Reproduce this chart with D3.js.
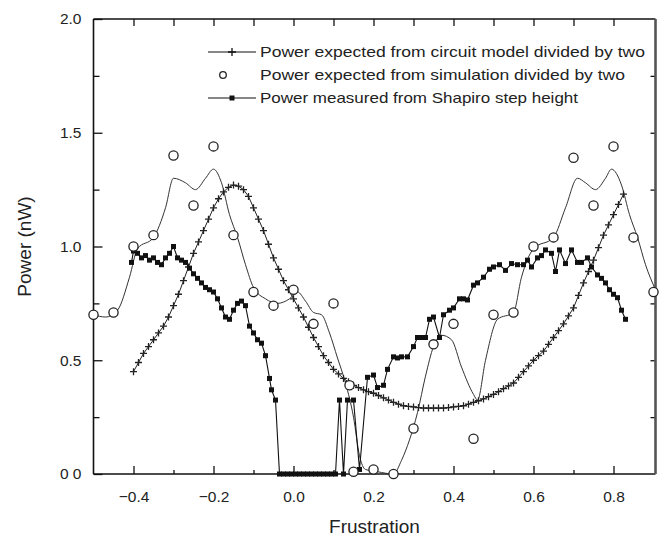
<!DOCTYPE html>
<html><head><meta charset="utf-8">
<script src="https://cdn.jsdelivr.net/npm/d3@7"></script>
<style>body{margin:0;background:#fff}svg{display:block}text{font-family:"Liberation Sans",Arial,sans-serif;fill:#222}</style>
</head><body><svg id="c" width="668" height="544"></svg>
<script>
// ---- data ----
const xTicks = [-0.4, -0.2, 0.0, 0.2, 0.4, 0.6, 0.8];
const xMinorTicks = [-0.5, -0.3, -0.1, 0.1, 0.3, 0.5, 0.7, 0.9];
const yTicks = [0, 0.5, 1.0, 1.5, 2.0];
const yMinorTicks = [0.25, 0.75, 1.25, 1.75];
const yTickLabels = ["0 0", "0.5", "1.0", "1.5", "2.0"];

const circuitX = [-0.4,-0.3875,-0.375,-0.3625,-0.35,-0.3375,-0.325,-0.3125,-0.3,-0.2875,-0.275,-0.2625,-0.25,-0.2375,-0.225,-0.2125,-0.2,-0.1875,-0.175,-0.1625,-0.15,-0.1375,-0.125,-0.1125,-0.1,-0.0875,-0.075,-0.0625,-0.05,-0.0375,-0.025,-0.0125,0,0.0125,0.025,0.0375,0.05,0.0625,0.075,0.0875,0.1,0.1125,0.125,0.1375,0.15,0.1625,0.175,0.1875,0.2,0.2125,0.225,0.2375,0.25,0.2625,0.275,0.2875,0.3,0.3125,0.325,0.3375,0.35,0.3625,0.375,0.3875,0.4,0.4125,0.425,0.4375,0.45,0.4625,0.475,0.4875,0.5,0.5125,0.525,0.5375,0.55,0.5625,0.575,0.5875,0.6,0.6125,0.625,0.6375,0.65,0.6625,0.675,0.6875,0.7,0.7125,0.725,0.7375,0.75,0.7625,0.775,0.7875,0.8,0.8125,0.825];
const circuitY = [0.45,0.49,0.53,0.56,0.59,0.62,0.65,0.69,0.74,0.79,0.85,0.91,0.97,1.02,1.07,1.12,1.17,1.21,1.24,1.26,1.27,1.265,1.25,1.22,1.17,1.12,1.07,1.01,0.95,0.90,0.85,0.81,0.77,0.73,0.69,0.645,0.60,0.56,0.52,0.49,0.46,0.44,0.42,0.405,0.39,0.38,0.37,0.362,0.355,0.345,0.335,0.325,0.315,0.307,0.30,0.297,0.295,0.292,0.29,0.29,0.29,0.29,0.29,0.292,0.295,0.297,0.30,0.307,0.315,0.322,0.33,0.34,0.35,0.362,0.375,0.387,0.40,0.425,0.45,0.475,0.50,0.52,0.54,0.57,0.60,0.63,0.66,0.695,0.73,0.785,0.84,0.89,0.94,0.995,1.05,1.095,1.14,1.185,1.23];

const simX = [-0.5,-0.45,-0.4,-0.35,-0.3,-0.25,-0.2,-0.15,-0.1,-0.05,0.0,0.05,0.1,0.14,0.15,0.2,0.25,0.3,0.35,0.4,0.45,0.5,0.55,0.6,0.65,0.7,0.75,0.8,0.85,0.9];
const simY = [0.70,0.71,1.00,1.05,1.40,1.18,1.44,1.05,0.80,0.74,0.81,0.66,0.75,0.39,0.01,0.02,0.00,0.20,0.57,0.66,0.155,0.70,0.71,1.00,1.04,1.39,1.18,1.44,1.04,0.80];

const simCurveX = [-0.5,-0.47,-0.44,-0.41,-0.39,-0.35,-0.32,-0.30,-0.27,-0.245,-0.22,-0.20,-0.18,-0.16,-0.14,-0.12,-0.10,-0.07,-0.04,-0.01,0.01,0.03,0.05,0.07,0.09,0.11,0.13,0.15,0.165,0.18,0.21,0.25,0.27,0.29,0.31,0.33,0.35,0.37,0.395,0.42,0.45,0.46,0.48,0.51,0.55,0.57,0.60,0.65,0.68,0.71,0.73,0.755,0.78,0.795,0.82,0.84,0.86,0.88,0.905];
const simCurveY = [0.70,0.69,0.72,0.865,0.99,1.04,1.17,1.30,1.28,1.25,1.30,1.34,1.28,1.14,1.04,0.92,0.82,0.77,0.75,0.77,0.80,0.76,0.71,0.70,0.62,0.51,0.40,0.25,0.08,0.02,0.01,0.0,0.06,0.15,0.27,0.43,0.56,0.61,0.59,0.47,0.35,0.325,0.50,0.68,0.71,0.865,0.99,1.04,1.17,1.30,1.28,1.25,1.30,1.34,1.27,1.14,1.04,0.92,0.81];

const measX = [-0.405,-0.40,-0.39,-0.38,-0.37,-0.36,-0.35,-0.34,-0.33,-0.32,-0.31,-0.30,-0.29,-0.28,-0.27,-0.26,-0.25,-0.24,-0.23,-0.22,-0.21,-0.20,-0.19,-0.18,-0.17,-0.16,-0.15,-0.14,-0.13,-0.12,-0.11,-0.10,-0.09,-0.08,-0.07,-0.06,-0.055,-0.045,-0.035,-0.025,-0.015,-0.005,0.005,0.015,0.025,0.035,0.045,0.055,0.065,0.075,0.085,0.095,0.105,0.115,0.125,0.135,0.15,0.165,0.185,0.20,0.21,0.225,0.235,0.25,0.26,0.27,0.285,0.30,0.31,0.32,0.33,0.34,0.35,0.365,0.375,0.39,0.40,0.415,0.425,0.435,0.45,0.46,0.475,0.49,0.50,0.515,0.53,0.545,0.56,0.575,0.585,0.595,0.61,0.62,0.63,0.645,0.655,0.665,0.68,0.695,0.71,0.72,0.735,0.745,0.76,0.77,0.78,0.79,0.80,0.81,0.82,0.83];
const measY = [0.93,0.98,0.97,0.95,0.96,0.94,0.95,0.93,0.92,0.95,0.97,1.00,0.95,0.94,0.93,0.905,0.88,0.86,0.84,0.82,0.81,0.80,0.77,0.73,0.69,0.68,0.72,0.75,0.76,0.74,0.65,0.62,0.59,0.575,0.52,0.42,0.37,0.325,0.0,0,0,0,0,0,0,0,0,0,0,0,0,0,0.0,0.325,0.0,0.325,0.325,0.02,0.425,0.435,0.38,0.39,0.46,0.515,0.51,0.515,0.515,0.56,0.60,0.60,0.60,0.68,0.69,0.60,0.70,0.72,0.73,0.77,0.77,0.765,0.83,0.84,0.865,0.90,0.91,0.92,0.895,0.925,0.92,0.92,0.94,0.91,0.95,0.96,0.985,0.97,0.89,0.985,0.925,0.985,0.93,0.93,0.95,0.91,0.875,0.86,0.84,0.81,0.79,0.775,0.72,0.68];

const legendLabels = ["Power expected from circuit model divided by two","Power expected from simulation divided by two","Power measured from Shapiro step height"];
const xTitle = "Frustration";
const yTitle = "Power (nW)";

// ---- drawing ----
const svg = d3.select("#c");
const L = 93.5, R = 655.5, T = 19, B = 474;
const x = d3.scaleLinear().domain([-0.5, 0.905]).range([L, R]);
const y = d3.scaleLinear().domain([0, 2]).range([B, T]);

function styleAxis(g){ g.select(".domain").remove(); g.selectAll("line").attr("stroke","#111").attr("stroke-width",1.3); }

svg.append("g").attr("transform",`translate(0,${B})`)
  .call(d3.axisBottom(x).tickValues(xTicks).tickSizeInner(-8).tickSizeOuter(0).tickPadding(17).tickFormat(d3.format(".1f")))
  .call(styleAxis).call(g=>g.selectAll("text").attr("font-size",15.5).attr("fill","#222"));
svg.append("g").attr("transform",`translate(0,${B})`)
  .call(d3.axisBottom(x).tickValues(xMinorTicks.filter(v=>v>-0.5&&v<0.9)).tickSizeInner(-4).tickSizeOuter(0).tickFormat(""))
  .call(styleAxis);
svg.append("g").attr("transform",`translate(0,${T})`)
  .call(d3.axisTop(x).tickValues(xTicks.concat(xMinorTicks.filter(v=>v>-0.5&&v<0.9))).tickSizeInner(-7).tickSizeOuter(0).tickFormat(""))
  .call(styleAxis);
svg.append("g").attr("transform",`translate(${L},0)`)
  .call(d3.axisLeft(y).tickValues(yTicks).tickSizeInner(-9).tickSizeOuter(0).tickPadding(12).tickFormat((d,i)=>yTickLabels[i]))
  .call(styleAxis).call(g=>g.selectAll("text").attr("font-size",15.5).attr("fill","#222"));
svg.append("g").attr("transform",`translate(${L},0)`)
  .call(d3.axisLeft(y).tickValues(yMinorTicks).tickSizeInner(-6).tickSizeOuter(0).tickFormat(""))
  .call(styleAxis);
svg.append("g").attr("transform",`translate(${R},0)`)
  .call(d3.axisRight(y).tickValues(yTicks.concat(yMinorTicks).filter(v=>v>0&&v<2)).tickSizeInner(-5).tickSizeOuter(0).tickFormat(""))
  .call(styleAxis);

svg.append("line").attr("x1",L).attr("x2",L).attr("y1",T).attr("y2",B).attr("stroke","#111").attr("stroke-width",1.6);
svg.append("line").attr("x1",L).attr("x2",R).attr("y1",B).attr("y2",B).attr("stroke","#111").attr("stroke-width",1.6);
svg.append("line").attr("x1",L).attr("x2",R).attr("y1",T).attr("y2",T).attr("stroke","#111").attr("stroke-width",1.6);
svg.append("line").attr("x1",R).attr("x2",R).attr("y1",T).attr("y2",B).attr("stroke","#555").attr("stroke-width",2.6);

const plot = svg.append("g");

plot.append("path").datum(simCurveX.map((v,i)=>[v,simCurveY[i]]))
  .attr("d", d3.line().x(d=>x(d[0])).y(d=>y(d[1])).curve(d3.curveMonotoneX))
  .attr("fill","none").attr("stroke","#333").attr("stroke-width",1);

const circ = circuitX.map((v,i)=>[v,circuitY[i]]);
plot.append("path").datum(circ)
  .attr("d", d3.line().x(d=>x(d[0])).y(d=>y(d[1])))
  .attr("fill","none").attr("stroke","#222").attr("stroke-width",1);
plot.append("g").selectAll("path").data(circ).join("path")
  .attr("transform",d=>`translate(${x(d[0])},${y(d[1])})`)
  .attr("d","M-3.5,0H3.5M0,-3.5V3.5").attr("stroke","#222").attr("stroke-width",1.3);

const meas = measX.map((v,i)=>[v,measY[i]]);
plot.append("path").datum(meas)
  .attr("d", d3.line().x(d=>x(d[0])).y(d=>y(d[1])))
  .attr("fill","none").attr("stroke","#111").attr("stroke-width",1.1);
plot.append("g").selectAll("rect").data(meas).join("rect")
  .attr("x",d=>x(d[0])-2.5).attr("y",d=>y(d[1])-2.5).attr("width",5).attr("height",5).attr("fill","#111");

plot.append("g").selectAll("circle").data(simX.map((v,i)=>[v,simY[i]])).join("circle")
  .attr("cx",d=>x(d[0])).attr("cy",d=>y(d[1])).attr("r",4.6)
  .attr("fill","#fff").attr("stroke","#222").attr("stroke-width",1.3);

const leg = svg.append("g");
const rowsY = [52, 75, 98];
const textEnds = [645, 625, 578];
rowsY.forEach((ry,i)=>{
  if(i!==1){
    leg.append("line").attr("x1",208).attr("x2",256).attr("y1",ry).attr("y2",ry).attr("stroke","#111").attr("stroke-width",1.2);
  }
  if(i===0) leg.append("path").attr("d",`M${232-4},${ry}H${232+4}M232,${ry-4}V${ry+4}`).attr("stroke","#111").attr("stroke-width",1.3);
  if(i===1) leg.append("circle").attr("cx",223).attr("cy",ry).attr("r",3.3).attr("fill","#fff").attr("stroke","#222").attr("stroke-width",1.3);
  if(i===2) leg.append("rect").attr("x",229.5).attr("y",ry-2.5).attr("width",5).attr("height",5).attr("fill","#111");
  leg.append("text").attr("x",260).attr("y",ry+5).attr("font-size",14.5)
    .attr("textLength",textEnds[i]-260).attr("lengthAdjust","spacingAndGlyphs").text(legendLabels[i]);
});

svg.append("text").attr("x",(L+R)/2).attr("y",533).attr("text-anchor","middle").attr("font-size",19).text(xTitle);
svg.append("text").attr("transform",`translate(31,${(T+B)/2}) rotate(-90)`).attr("text-anchor","middle").attr("font-size",19).text(yTitle);
</script></body></html>
